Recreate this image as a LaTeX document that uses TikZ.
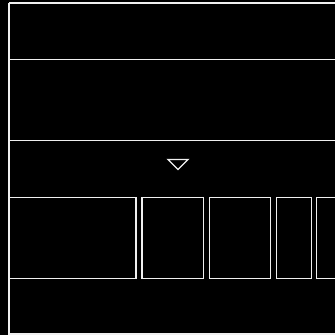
\documentclass[tikz,border=0pt]{standalone}
\usepackage{tikz}
\tikzset{
  frame/.style={draw=gray!12,line width=1.3pt},        % outer frame and rules
  panel/.style={draw=gray!12,line width=1.3pt},        % row of boxes
  marker/.style={draw=gray!12,line width=1.3pt,line join=miter},% small triangle
}

\begin{document}
\begin{tikzpicture}[x=1pt,y=-1pt]
  \fill[black] (0,0) rectangle (335,335);
  \useasboundingbox (0,0) rectangle (335,335);
  \clip (0,0) rectangle (335,335);
  \draw[frame] (9,3) -- (345,3);
  \draw[frame] (345,334) -- (9,334) -- (9,3);
  \draw[frame] (9,59.5) -- (345,59.5);
  \draw[frame] (9,140.5) -- (345,140.5);
  \foreach \xa/\xb in {9/136,142/203.5,209.5/270.5,276.5/311.5,316.5/360}
    \draw[panel] (\xa,197.5) rectangle (\xb,278.5);
  \draw[marker] (168,159.5) -- (188,159.5) -- (178,169.5) -- cycle;
\end{tikzpicture}
\end{document}
